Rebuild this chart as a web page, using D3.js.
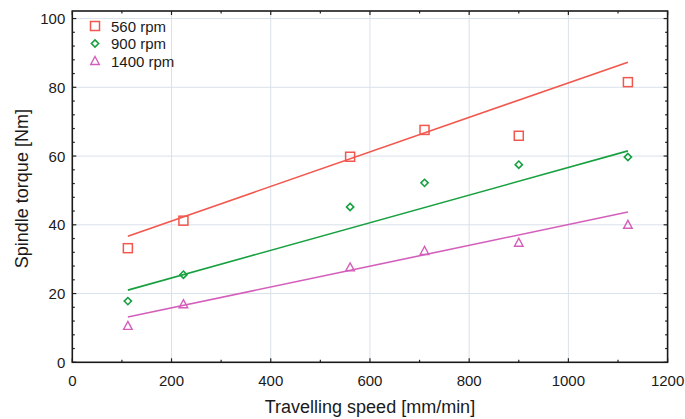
<!DOCTYPE html>
<html><head><meta charset="utf-8">
<script src="https://cdn.jsdelivr.net/npm/d3@7"></script>
<style>body{margin:0;background:#fff}svg{display:block;font-family:"Liberation Sans",Arial,sans-serif}</style>
</head><body>
<svg id="c" width="685" height="419"></svg>
<script>
const speeds = [112, 224, 560, 710, 900, 1120];
const torque560 = [33.2, 41.2, 59.8, 67.6, 65.9, 81.5];
const torque900 = [17.8, 25.5, 45.2, 52.2, 57.5, 59.7];
const torque1400 = [10.6, 16.9, 27.6, 32.4, 34.8, 40.0];
const fitX = [112, 1120];
const fit560 = [36.7, 87.3];
const fit900 = [21.0, 61.5];
const fit1400 = [13.2, 43.7];
const seriesNames = ["560 rpm", "900 rpm", "1400 rpm"];
const xTicks = [0, 200, 400, 600, 800, 1000, 1200];
const yTicks = [0, 20, 40, 60, 80, 100];

const colors = ["#f2574d", "#17a040", "#d45fbb"];
const shapes = ["square", "diamond", "triangle"];
const series = [
  {name: seriesNames[0], vals: torque560, fit: fit560},
  {name: seriesNames[1], vals: torque900, fit: fit900},
  {name: seriesNames[2], vals: torque1400, fit: fit1400}
];

const L = 72.3, R = 667.6, B = 362.3, T = 11;
const x = d3.scaleLinear().domain([0, 1200]).range([L, R]);
const y = d3.scaleLinear().domain([0, 100]).range([B, B - 100 * 3.4375]);
const yMaxVal = y.invert(T);

const svg = d3.select("#c");

// grid
const g = svg.append("g");
g.selectAll(".gx").data(xTicks.slice(1, -1)).join("line")
  .attr("x1", d => x(d)).attr("x2", d => x(d)).attr("y1", T).attr("y2", B)
  .attr("stroke", "#d9e1ea").attr("stroke-width", 1);
g.selectAll(".gy").data(yTicks.slice(1)).join("line")
  .attr("y1", d => y(d)).attr("y2", d => y(d)).attr("x1", L).attr("x2", R)
  .attr("stroke", "#d9e1ea").attr("stroke-width", 1);

// ticks (inward on all sides)
const xMinor = d3.range(100, 1200, 100).filter(v => v % 200 !== 0);
const yMinor = d3.range(4, yMaxVal, 4).filter(v => v % 20 !== 0);
const tk = svg.append("g").attr("stroke", "#222").attr("stroke-width", 1.2);
xTicks.forEach(v => {
  tk.append("line").attr("x1", x(v)).attr("x2", x(v)).attr("y1", B).attr("y2", B - 4);
  tk.append("line").attr("x1", x(v)).attr("x2", x(v)).attr("y1", T).attr("y2", T + 4);
});
xMinor.forEach(v => {
  tk.append("line").attr("x1", x(v)).attr("x2", x(v)).attr("y1", B).attr("y2", B - 2.5);
  tk.append("line").attr("x1", x(v)).attr("x2", x(v)).attr("y1", T).attr("y2", T + 2.5);
});
yTicks.forEach(v => {
  tk.append("line").attr("y1", y(v)).attr("y2", y(v)).attr("x1", L).attr("x2", L + 4);
  tk.append("line").attr("y1", y(v)).attr("y2", y(v)).attr("x1", R).attr("x2", R - 4);
});
yMinor.forEach(v => {
  tk.append("line").attr("y1", y(v)).attr("y2", y(v)).attr("x1", L).attr("x2", L + 2.5);
  tk.append("line").attr("y1", y(v)).attr("y2", y(v)).attr("x1", R).attr("x2", R - 2.5);
});

// frame
svg.append("rect").attr("x", L).attr("y", T).attr("width", R - L).attr("height", B - T)
  .attr("fill", "none").attr("stroke", "#1a1a1a").attr("stroke-width", 1.6);

// tick labels
svg.append("g").selectAll("text").data(xTicks).join("text")
  .attr("x", d => x(d)).attr("y", B + 24).attr("text-anchor", "middle")
  .attr("font-size", 15).attr("fill", "#1a1a1a").text(d => d);
svg.append("g").selectAll("text").data(yTicks).join("text")
  .attr("x", L - 7).attr("y", d => y(d) + 5.5).attr("text-anchor", "end")
  .attr("font-size", 15).attr("fill", "#1a1a1a").text(d => d);

// axis titles
svg.append("text").attr("x", (L + R) / 2).attr("y", 413).attr("text-anchor", "middle")
  .attr("font-size", 18).attr("fill", "#1a1a1a").text("Travelling speed [mm/min]");
svg.append("text").attr("transform", `translate(28,${(T + B) / 2 + 2}) rotate(-90)`)
  .attr("text-anchor", "middle").attr("font-size", 18).attr("fill", "#1a1a1a").text("Spindle torque [Nm]");

function marker(sel, shape, color) {
  if (shape === "square") {
    sel.append("rect").attr("x", -4.5).attr("y", -4.5).attr("width", 9).attr("height", 9)
      .attr("fill", "none").attr("stroke", color).attr("stroke-width", 1.5);
  } else if (shape === "diamond") {
    sel.append("path").attr("d", "M0,-3.6L3.6,0L0,3.6L-3.6,0Z")
      .attr("fill", "none").attr("stroke", color).attr("stroke-width", 1.6);
  } else {
    sel.append("path").attr("d", "M0,-4.5L4.3,3.5L-4.3,3.5Z")
      .attr("fill", "none").attr("stroke", color).attr("stroke-width", 1.4);
  }
}

const line = d3.line().x(d => x(d[0])).y(d => y(d[1]));
series.forEach((s, i) => {
  svg.append("path").datum(fitX.map((xv, j) => [xv, s.fit[j]]))
    .attr("d", line).attr("fill", "none").attr("stroke", colors[i]).attr("stroke-width", 1.6);
  s.vals.forEach((v, j) => {
    const m = svg.append("g").attr("transform", `translate(${x(speeds[j])},${y(v)})`);
    marker(m, shapes[i], colors[i]);
  });
});

// legend
series.forEach((s, i) => {
  const yy = 26 + i * 17.5;
  const m = svg.append("g").attr("transform", `translate(95,${yy})`);
  marker(m, shapes[i], colors[i]);
  svg.append("text").attr("x", 111).attr("y", yy + 5.5).attr("font-size", 15)
    .attr("fill", "#1a1a1a").text(s.name);
});
</script>
</body></html>
